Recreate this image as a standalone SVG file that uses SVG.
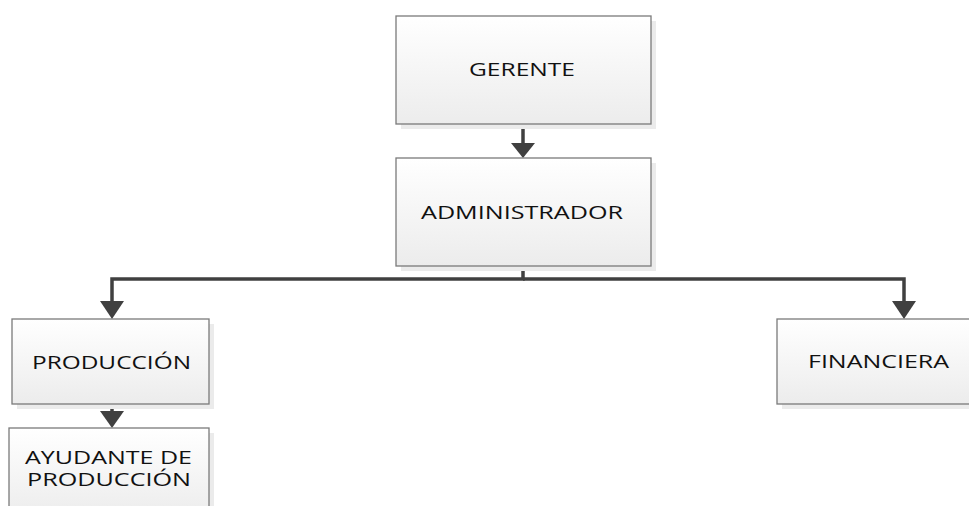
<svg xmlns="http://www.w3.org/2000/svg" width="969" height="506" viewBox="0 0 969 506">
<defs>
<linearGradient id="g" x1="0" y1="0" x2="0" y2="1">
<stop offset="0" stop-color="#ffffff"/>
<stop offset="1" stop-color="#ececec"/>
</linearGradient>
<style>
.box{fill:url(#g);stroke:#7a7a7a;stroke-width:1.3}
.sh{fill:#ebebeb}
.t{font-family:"Open Sans","Liberation Sans",Arial,sans-serif;font-size:18.5px;fill:#111111}
.t2{font-family:"Open Sans","Liberation Sans",Arial,sans-serif;font-size:17.5px;fill:#111111}
.c{fill:none;stroke:#404040;stroke-width:3.5}
.ah{fill:#404040}
</style>
</defs>
<rect width="969" height="506" fill="#ffffff"/>
<g id="connectors">
<path class="c" d="M523,124 V144"/>
<path class="ah" d="M511,143 L535,143 L523,158 Z"/>
<path class="c" d="M523,266 V279 H112 V302"/>
<path class="ah" d="M100,301 L124,301 L112,319 Z"/>
<path class="c" d="M523,279 H904 V302"/>
<path class="ah" d="M892,301 L916,301 L904,319 Z"/>
<path class="c" d="M112,404 V413"/>
<path class="ah" d="M100,411 L124,411 L112,428 Z"/>
</g>
<g id="gerente">
<rect class="sh" x="401" y="21" width="255" height="108"/>
<rect class="box" x="396" y="16" width="255" height="108"/>
<text class="t" x="469" y="76" textLength="106" lengthAdjust="spacingAndGlyphs">GERENTE</text>
</g>
<g id="administrador">
<rect class="sh" x="401" y="163" width="255" height="108"/>
<rect class="box" x="396" y="158" width="255" height="108"/>
<text class="t" x="421" y="219" textLength="202" lengthAdjust="spacingAndGlyphs">ADMINISTRADOR</text>
</g>
<g id="produccion">
<rect class="sh" x="17" y="324" width="197" height="85"/>
<rect class="box" x="12" y="319" width="197" height="85"/>
<text class="t" x="32" y="369" textLength="159" lengthAdjust="spacingAndGlyphs">PRODUCCIÓN</text>
</g>
<g id="financiera">
<rect class="sh" x="782" y="324" width="200" height="85"/>
<rect class="box" x="777" y="319" width="200" height="85"/>
<text class="t" x="808" y="368" textLength="141" lengthAdjust="spacingAndGlyphs">FINANCIERA</text>
</g>
<g id="ayudante">
<rect class="sh" x="14" y="433" width="200" height="90"/>
<rect class="box" x="9" y="428" width="200" height="90"/>
<text class="t2" x="25" y="464" textLength="167" lengthAdjust="spacingAndGlyphs">AYUDANTE DE</text>
<text class="t2" x="27" y="486" textLength="164" lengthAdjust="spacingAndGlyphs">PRODUCCIÓN</text>
</g>
</svg>
